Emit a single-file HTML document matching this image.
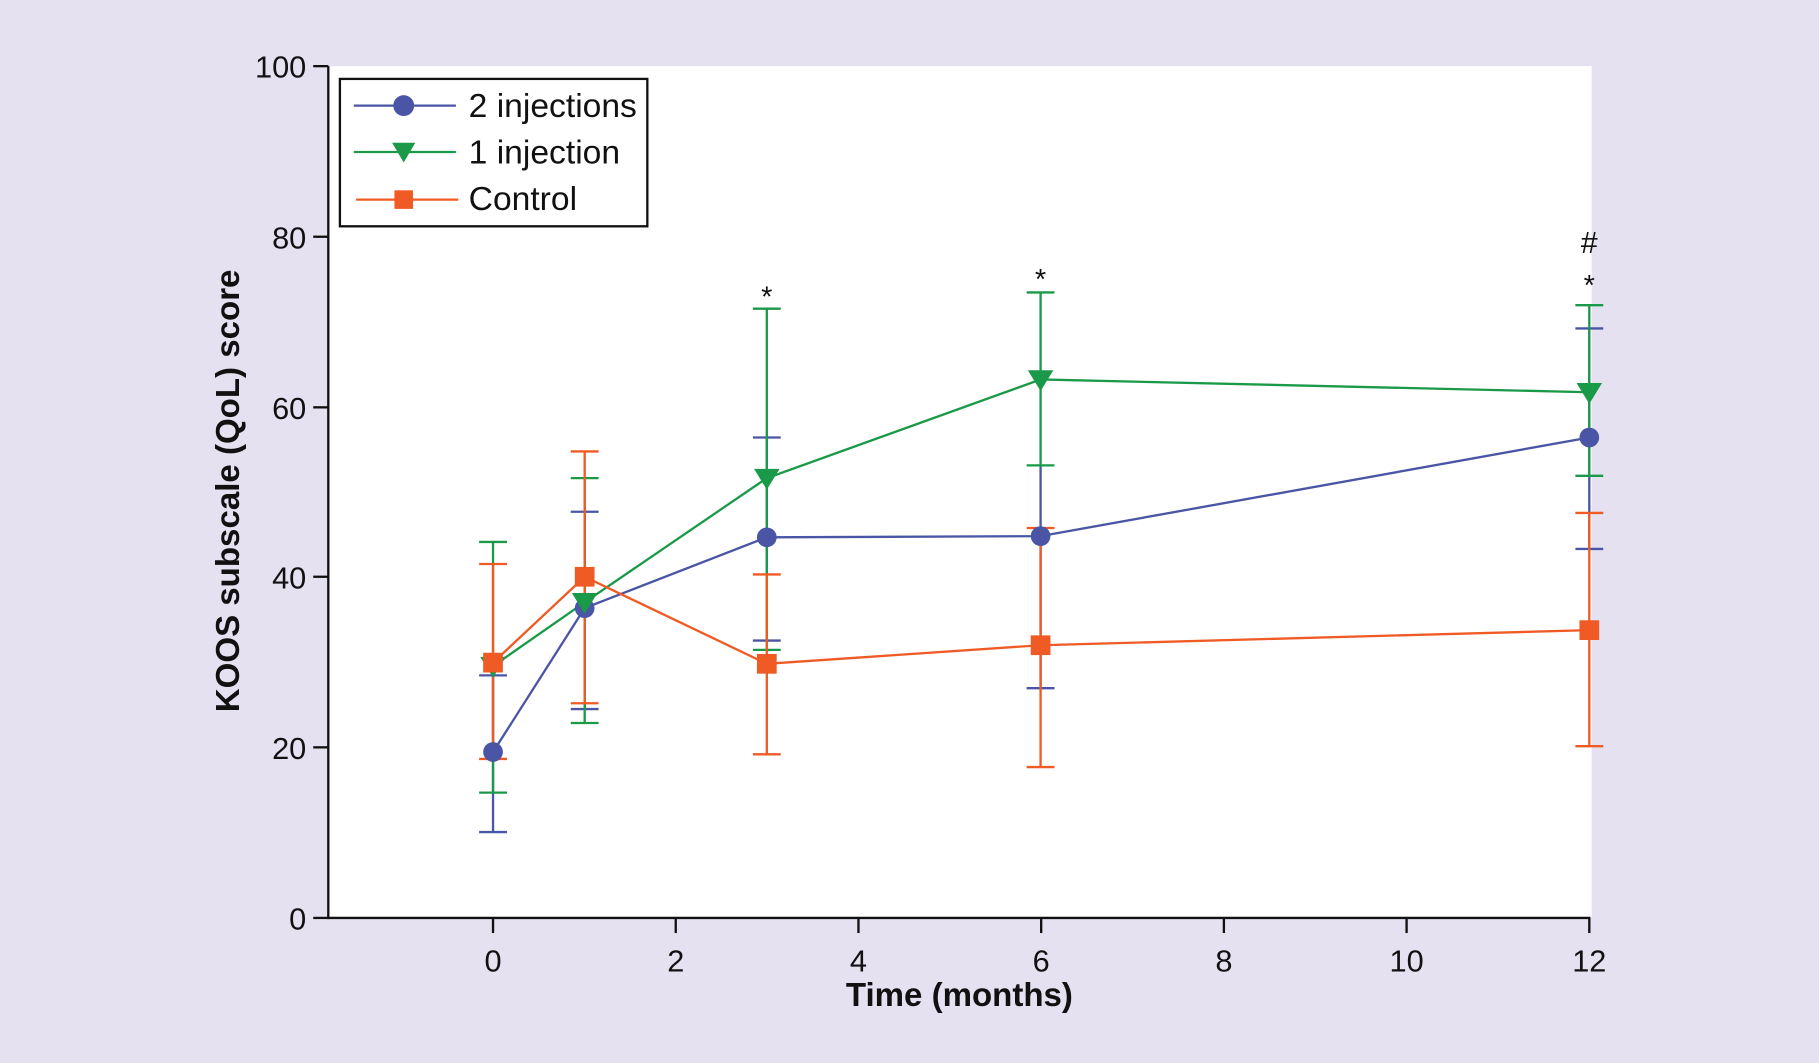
<!DOCTYPE html>
<html><head><meta charset="utf-8"><style>
html,body{margin:0;padding:0;background:#e5e1f0;}
svg{display:block;}
text{font-family:"Liberation Sans",Arial,sans-serif;fill:#111;}
</style></head><body>
<svg width="1819" height="1063" viewBox="0 0 1568 916" preserveAspectRatio="none" xmlns="http://www.w3.org/2000/svg">
<rect x="0" y="0" width="1568" height="916" fill="#e5e1f0"/>
<rect x="283" y="57" width="1089" height="734" fill="#fff"/>
<g stroke="#111" stroke-width="2" fill="none">
<line x1="283" y1="57" x2="283" y2="792"/>
<line x1="283" y1="791" x2="1371" y2="791"/>
<line x1="270" y1="57" x2="283" y2="57"/>
<line x1="270" y1="204" x2="283" y2="204"/>
<line x1="270" y1="351" x2="283" y2="351"/>
<line x1="270" y1="497" x2="283" y2="497"/>
<line x1="270" y1="644" x2="283" y2="644"/>
<line x1="270" y1="791" x2="283" y2="791"/>
<line x1="425" y1="791" x2="425" y2="804"/>
<line x1="582.5" y1="791" x2="582.5" y2="804"/>
<line x1="740" y1="791" x2="740" y2="804"/>
<line x1="897.5" y1="791" x2="897.5" y2="804"/>
<line x1="1055" y1="791" x2="1055" y2="804"/>
<line x1="1212.5" y1="791" x2="1212.5" y2="804"/>
<line x1="1370" y1="791" x2="1370" y2="804"/>
</g>
<g font-size="26.5" text-anchor="end">
<text x="264" y="67">100</text><text x="264" y="214">80</text><text x="264" y="361">60</text>
<text x="264" y="507">40</text><text x="264" y="654">20</text><text x="264" y="801">0</text>
</g>
<g font-size="26.5" text-anchor="middle">
<text x="425" y="837">0</text><text x="582.5" y="837">2</text><text x="740" y="837">4</text>
<text x="897.5" y="837">6</text><text x="1055" y="837">8</text><text x="1212.5" y="837">10</text><text x="1370" y="837">12</text>
<text x="827" y="867" font-weight="bold" font-size="28.5">Time (months)</text>
<text transform="translate(206,423) rotate(-90)" font-weight="bold" font-size="28.5">KOOS subscale (QoL) score</text>
</g>
<g stroke="#4a55a5" stroke-width="2" fill="none">
<path d="M425 717V582M413 717H437M413 582H437"/>
<path d="M504 611V441M492 611H516M492 441H516"/>
<path d="M661 552V377M649 552H673M649 377H673"/>
<path d="M897 593V400M885 593H909"/>
<path d="M1370 473V283M1358 473H1382M1358 283H1382"/>
</g>
<g stroke="#1a9a48" stroke-width="2" fill="none">
<path d="M425 683V467M413 683H437M413 467H437"/>
<path d="M504 623V412M492 623H516M492 412H516"/>
<path d="M661 560V266M649 560H673M649 266H673"/>
<path d="M897 401V252M885 401H909M885 252H909"/>
<path d="M1370 410V263M1358 410H1382M1358 263H1382"/>
</g>
<g stroke="#f05a24" stroke-width="2" fill="none">
<path d="M425 654V486M413 654H437M413 486H437"/>
<path d="M504 606V389M492 606H516M492 389H516"/>
<path d="M661 650V495M649 650H673M649 495H673"/>
<path d="M897 661V455M885 661H909M885 455H909"/>
<path d="M1370 643V442M1358 643H1382M1358 442H1382"/>
</g>
<polyline points="425,648 504,524 661,463 897,462 1370,377" fill="none" stroke="#4a55a5" stroke-width="2"/>
<polyline points="425,574 504,519 661,412 897,327 1370,338" fill="none" stroke="#1a9a48" stroke-width="2"/>
<polyline points="425,571 504,497 661,572 897,556 1370,543" fill="none" stroke="#f05a24" stroke-width="2"/>
<g fill="#4a55a5">
<circle cx="425" cy="648" r="8.5"/><circle cx="504" cy="524" r="8.5"/><circle cx="661" cy="463" r="8.5"/><circle cx="897" cy="462" r="8.5"/><circle cx="1370" cy="377" r="8.5"/>
</g>
<g fill="#1a9a48">
<path d="M414 566H436L425 584Z"/><path d="M493 511H515L504 529Z"/><path d="M650 404H672L661 422Z"/><path d="M886 319H908L897 337Z"/><path d="M1359 330H1381L1370 348Z"/>
</g>
<g fill="#f05a24">
<rect x="416.5" y="562.5" width="17" height="17"/><rect x="495.5" y="488.5" width="17" height="17"/><rect x="652.5" y="563.5" width="17" height="17"/><rect x="888.5" y="547.5" width="17" height="17"/><rect x="1361.5" y="534.5" width="17" height="17"/>
</g>
<g font-size="25" text-anchor="middle">
<text x="661" y="264">*</text><text x="897" y="249">*</text><text x="1370" y="254">*</text>
<text x="1370" y="218" font-size="26">#</text>
</g>
<rect x="293" y="68" width="265" height="127" fill="#fff" stroke="#111" stroke-width="2"/>
<line x1="305" y1="91" x2="393" y2="91" stroke="#4a55a5" stroke-width="2"/>
<circle cx="348" cy="91" r="9" fill="#4a55a5"/>
<line x1="305" y1="131" x2="393" y2="131" stroke="#1a9a48" stroke-width="2"/>
<path d="M338 123H358L348 140Z" fill="#1a9a48"/>
<line x1="307" y1="172" x2="395" y2="172" stroke="#f05a24" stroke-width="2"/>
<rect x="340" y="164" width="16" height="16" fill="#f05a24"/>
<g font-size="29">
<text x="404" y="101">2 injections</text>
<text x="404" y="141">1 injection</text>
<text x="404" y="181">Control</text>
</g>
</svg>
</body></html>
